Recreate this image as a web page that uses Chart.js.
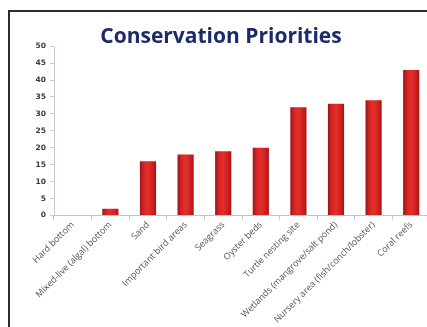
<!DOCTYPE html>
<html lang="en">
<head>
  <meta charset="UTF-8">
  <title>Conservation Priorities</title>
  <script src="https://cdn.jsdelivr.net/npm/chart.js"></script>
  <style>
    body {
      margin: 0;
      background: #fff;
      overflow: hidden;
      width: 427px;
      height: 327px;
      position: relative;
    }
    .frame {
      position: absolute;
      left: 8px;
      top: 10px;
      width: 440px;
      height: 330px;
      border-left: 2px solid #2b2b2b;
      border-top: 2px solid #2b2b2b;
    }
    .wrap {
      position: absolute;
      left: 0;
      top: 0;
      width: 440px;
      height: 327px;
    }
  </style>
</head>
<body>

<div class="frame"></div>
<div class="wrap">
  <canvas id="priorityChart"></canvas>
</div>

<script>
  const habitats = [
    "Hard bottom",
    "Mixed-live (algal) bottom",
    "Sand",
    "Important bird areas",
    "Seagrass",
    "Oyster beds",
    "Turtle nesting site",
    "Wetlands (mangrove/salt pond)",
    "Nursery area (fish/conch/lobster)",
    "Coral reefs"
  ];
  const priorityScores = [0, 2, 16, 18, 19, 20, 32, 33, 34, 43];
  const yTicks = [0, 5, 10, 15, 20, 25, 30, 35, 40, 45, 50];

  // red bars shaded darker toward both edges
  function barFill(ctx) {
    const chart = ctx.chart;
    if (!chart.chartArea || ctx.dataIndex === undefined) return "#d02424";
    const cx = chart.scales.x.getPixelForValue(ctx.dataIndex);
    const half = 8;
    const g = chart.ctx.createLinearGradient(cx - half, 0, cx + half, 0);
    g.addColorStop(0, "#a01218");
    g.addColorStop(0.25, "#d42626");
    g.addColorStop(0.5, "#e4302c");
    g.addColorStop(0.8, "#cc2020");
    g.addColorStop(1, "#a81418");
    return g;
  }

  new Chart(document.getElementById("priorityChart"), {
    type: "bar",
    data: {
      labels: habitats,
      datasets: [{
        data: priorityScores,
        backgroundColor: barFill,
        borderWidth: 0,
        categoryPercentage: 1.0,
        barPercentage: 0.43
      }]
    },
    options: {
      responsive: true,
      maintainAspectRatio: false,
      animation: false,
      layout: {
        padding: { left: 12, right: 10, top: 0, bottom: 2 }
      },
      plugins: {
        legend: { display: false },
        tooltip: { enabled: false },
        title: {
          display: true,
          text: "Conservation Priorities",
          color: "#1c2a6a",
          font: { family: "'Open Sans', sans-serif", size: 21, weight: "bold" },
          padding: { top: 24, bottom: -3 }
        }
      },
      scales: {
        y: {
          min: 0,
          max: 50,
          afterBuildTicks: axis => {
            axis.ticks = yTicks.map(v => ({ value: v }));
          },
          afterFit: axis => { axis.width = 42; },
          grid: {
            display: true,
            drawOnChartArea: false,
            color: "#c4ccd8",
            tickLength: 4
          },
          border: { color: "#c4ccd8" },
          ticks: {
            color: "#3a3a3a",
            padding: 4,
            font: { family: "'DejaVu Sans', sans-serif", size: 7.5, weight: "bold" }
          }
        },
        x: {
          grid: {
            display: true,
            drawOnChartArea: false,
            color: "#b8c4dc",
            tickLength: 4
          },
          border: { color: "#b8c4dc" },
          ticks: {
            color: "#555",
            minRotation: 45,
            maxRotation: 45,
            padding: 0,
            font: { family: "'Open Sans', sans-serif", size: 9 }
          }
        }
      }
    }
  });
</script>
</body>
</html>
